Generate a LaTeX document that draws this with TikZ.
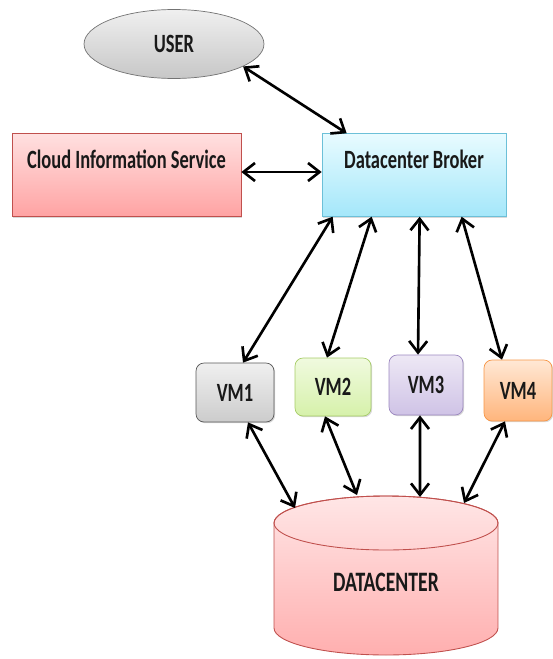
\documentclass[tikz,border=0pt]{standalone}
\usepackage{fontspec}
\usetikzlibrary{arrows.meta,shapes.geometric,shadows}
\newfontfamily\diagfont{Carlito}[FakeStretch=0.70]
\definecolor{cisline}{HTML}{C0504D}
\definecolor{cistop}{HTML}{FFE0E0}
\definecolor{cisbot}{HTML}{FFA3A3}
\definecolor{brkline}{HTML}{6CC0D8}
\definecolor{brktop}{HTML}{E8FBFF}
\definecolor{brkbot}{HTML}{A4E7FA}
\definecolor{vmtwoline}{HTML}{A6CC66}
\definecolor{vmtwotop}{HTML}{F0FADF}
\definecolor{vmtwobot}{HTML}{D6F1AA}
\definecolor{vmthreeline}{HTML}{9C88C0}
\definecolor{vmthreetop}{HTML}{EDE8F5}
\definecolor{vmthreebot}{HTML}{CFC3E6}
\definecolor{vmfourline}{HTML}{F79646}
\definecolor{vmfourtop}{HTML}{FFE8D5}
\definecolor{vmfourbot}{HTML}{FFB57C}
\definecolor{dctop}{HTML}{FFE6E6}
\definecolor{dcbot}{HTML}{FFAFAF}

\tikzset{
  label text/.style={font=\diagfont\bfseries\fontsize{15}{17}\selectfont, text=black!90},
  flat box/.style={draw, rectangle, label text, minimum height=1.42cm,
    drop shadow={shadow xshift=0.7pt, shadow yshift=-0.7pt, opacity=0.3}},
  vm box/.style={draw, rectangle, rounded corners=0.16cm, label text, minimum width=1.54cm, minimum height=1.18cm,
    drop shadow={shadow xshift=0.7pt, shadow yshift=-0.7pt, opacity=0.3}},
  link/.style={line width=1.5pt, {Straight Barb[length=2.3mm,width=3.6mm]}-{Straight Barb[length=2.3mm,width=3.6mm]}},
  dc end/.style={x radius=2.24cm, y radius=0.54cm}
}

\begin{document}
\begin{tikzpicture}[x=0.02cm,y=-0.02cm]
\useasboundingbox (0,0) rectangle (553,659);

\node[ellipse, draw=black!55, top color=black!6, bottom color=black!22, label text,
  minimum width=3.6cm, minimum height=1.38cm] (user) at (174,44) {USER};

\node[flat box, draw=cisline, top color=cistop, bottom color=cisbot,
  text height=0.58cm, text depth=0.84cm, minimum width=4.58cm] (cis) at (126.5,175) {Cloud Information Service};
\node[flat box, draw=brkline, top color=brktop, bottom color=brkbot,
  text height=0.58cm, text depth=0.84cm, minimum width=3.68cm] (broker) at (414,175) {Datacenter Broker};

\node[vm box, draw=black!65, top color=black!6, bottom color=black!20, minimum width=1.56cm] (vm1) at (235,392.5) {VM1};
\node[vm box, draw=vmtwoline, top color=vmtwotop, bottom color=vmtwobot,
  minimum width=1.52cm, minimum height=1.16cm] (vm2) at (333,387) {VM2};
\node[vm box, draw=vmthreeline, top color=vmthreetop, bottom color=vmthreebot,
  minimum width=1.48cm, minimum height=1.2cm] (vm3) at (426,385) {VM3};
\node[vm box, draw=vmfourline, top color=vmfourtop, bottom color=vmfourbot,
  minimum width=1.36cm, minimum height=1.22cm] (vm4) at (518,390.5) {VM4};

% datacenter drum
\path[top color=dctop, bottom color=dcbot, draw=cisline, line width=0.5pt]
  (274,523) -- (274,628) arc[start angle=180, end angle=360, dc end]
  -- (498,523) arc[start angle=0, end angle=180, dc end] -- cycle;
\draw[cisline, line width=0.5pt] (386,523) ellipse[dc end];
\node[label text, font=\diagfont\bfseries\fontsize{16}{18}\selectfont] (dctext) at (386,582) {DATACENTER};

\coordinate (dc1) at (295,508);
\coordinate (dc2) at (357,495);
\coordinate (dc3) at (420,497);
\coordinate (dc4) at (464,503);

\draw[link] (user.-18) -- ([xshift=0.5cm]broker.north west);
\draw[link] ([yshift=0.06cm]cis.east) -- ([yshift=0.06cm]broker.west);

\draw[link] ([xshift=0.22cm]broker.south west) -- ([xshift=0.16cm]vm1.north);
\draw[link] ([xshift=1.0cm]broker.south west) -- ([xshift=-0.12cm]vm2.north);
\draw[link] ([xshift=1.96cm]broker.south west) -- ([xshift=-0.16cm]vm3.north);
\draw[link] ([xshift=2.8cm]broker.south west) -- ([xshift=-0.32cm]vm4.north);

\draw[link] ([xshift=0.26cm]vm1.south) -- (dc1);
\draw[link] ([xshift=-0.16cm]vm2.south) -- (dc2);
\draw[link] ([xshift=-0.12cm]vm3.south) -- (dc3);
\draw[link] ([xshift=-0.26cm]vm4.south) -- (dc4);

\end{tikzpicture}
\end{document}
